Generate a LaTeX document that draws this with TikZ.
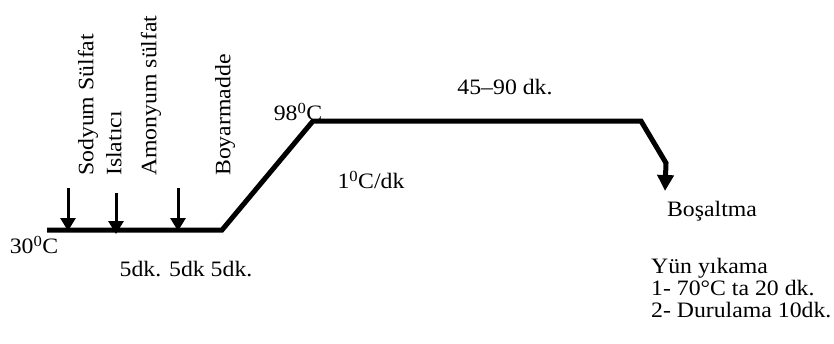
\documentclass[tikz,border=0pt]{standalone}
\usepackage{fontspec}
\setmainfont[FakeStretch=1.08]{Liberation Serif}
\usetikzlibrary{arrows.meta}
\begin{document}
\begin{tikzpicture}[x=1pt,y=-1pt,
  curve/.style={line width=5pt,line join=miter},
  addarrow/.style={line width=3pt,-{Triangle[length=13pt,width=15pt]}},
  lbl/.style={inner sep=0pt,font=\fontsize{22}{22}\selectfont},
  vlbl/.style={lbl,rotate=90,anchor=mid west}]
\useasboundingbox[fill=white] (0,0) rectangle (834,343);
% temperature profile
\coordinate (p0) at (47,230);
\coordinate (p1) at (222,230);
\coordinate (p2) at (313,121);
\coordinate (p3) at (641,121);
\coordinate (p4) at (666,163);
\coordinate (p5) at (665,191);
\draw[curve,-{Triangle[length=16pt,width=16pt]}] (p0) -- (p1) -- (p2) -- (p3) -- (p4) -- (p5);
% addition arrows
\coordinate (a1s) at (68,188);  \coordinate (a1e) at (68,231);
\coordinate (a2s) at (116,193); \coordinate (a2e) at (116,234);
\coordinate (a3s) at (178,188); \coordinate (a3e) at (178,231);
\draw[addarrow] (a1s) -- (a1e);
\draw[addarrow] (a2s) -- (a2e);
\draw[addarrow] (a3s) -- (a3e);
% vertical labels
\node[vlbl] (sod) at (91,176) {Sodyum Sülfat};
\node[vlbl] (isl) at (119,176) {Islatıcı};
\node[vlbl] (amo) at (154,176) {Amonyum sülfat};
\node[vlbl] (boy) at (228,176) {Boyarmadde};
% other labels
\node[lbl] (t30) at (34,245) {30\textsuperscript{0}C};
\node[lbl] (t98) at (298,112) {98\textsuperscript{0}C};
\node[lbl] (tdur) at (505,87) {45–90 dk.};
\node[lbl] (trate) at (371,180) {1\textsuperscript{0}C/dk};
\node[lbl] (tdk) at (186,269) {5dk. 5dk 5dk.};
\node[lbl] (tbos) at (712,211) {Boşaltma};
\node[lbl,anchor=north west,align=left] (tyun) at (651,258)
  {Yün yıkama\\1- 70°C ta 20 dk.\\2- Durulama 10dk.};
\end{tikzpicture}
\end{document}
